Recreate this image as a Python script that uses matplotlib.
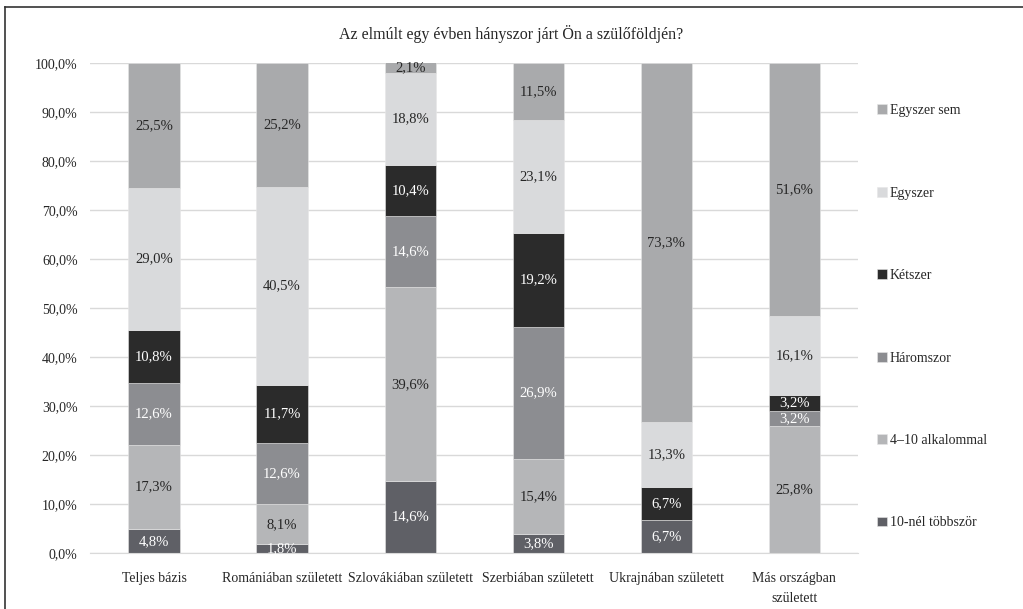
import matplotlib
matplotlib.use("Agg")
import matplotlib.pyplot as plt
import numpy as np

plt.rcParams["font.family"] = ["Liberation Serif", "DejaVu Serif"]

categories = ["Teljes bázis", "Romániában született", "Szlovákiában született",
              "Szerbiában született", "Ukrajnában született", "Más országban\nszületett"]
series = ["10-nél többször", "4–10 alkalommal", "Háromszor", "Kétszer", "Egyszer", "Egyszer sem"]
tobbszor = [4.8, 1.8, 14.6, 3.8, 6.7, 0.0]
alkalom = [17.3, 8.1, 39.6, 15.4, 0.0, 25.8]
haromszor = [12.6, 12.6, 14.6, 26.9, 0.0, 3.2]
ketszer = [10.8, 11.7, 10.4, 19.2, 6.7, 3.2]
egyszer = [29.0, 40.5, 18.8, 23.1, 13.3, 16.1]
egyszer_sem = [25.5, 25.2, 2.1, 11.5, 73.3, 51.6]
values = [tobbszor, alkalom, haromszor, ketszer, egyszer, egyszer_sem]

colors = ["#5f6066", "#b5b6b8", "#8c8d91", "#2b2b2b", "#d9dadc", "#a9aaac"]
text_colors = ["white", "#262626", "white", "white", "#262626", "#262626"]

fig = plt.figure(figsize=(10.23, 6.09), dpi=100)
ax = fig.add_axes([0.088, 0.092, 0.751, 0.805])

x = np.arange(len(categories))
bottom = np.zeros(len(categories))
handles = []
for vals, col, tc, name in zip(values, colors, text_colors, series):
    vals = np.array(vals)
    h = ax.bar(x, vals, 0.4, bottom=bottom, color=col, label=name,
               edgecolor="#e6e6e6", linewidth=0.4, zorder=2)
    handles.append(h)
    for xi, v, b in zip(x, vals, bottom):
        if v > 0:
            ax.text(xi, b + v / 2, f"{v:.1f}%".replace(".", ","), ha="center",
                    va="center", color=tc, fontsize=10.5, zorder=3)
    bottom += vals

ax.set_xlim(-0.5, len(categories) - 0.5)
ax.set_ylim(0, 100)
ax.set_yticks(np.arange(0, 101, 10))
ax.set_yticklabels([f"{t:.1f}%".replace(".", ",") for t in np.arange(0, 101, 10)])
ax.set_xticks(x)
ax.set_xticklabels(categories, linespacing=1.65)
ax.grid(axis="y", color="#d9d9d9", linewidth=1, zorder=0)
for s in ["top", "right", "left"]:
    ax.spines[s].set_visible(False)
ax.spines["bottom"].set_color("#d9d9d9")
ax.tick_params(length=0, labelsize=10, colors="#262626")
ax.tick_params(axis="x", pad=14)
ax.tick_params(axis="y", pad=9)

fig.text(0.5, 0.944, "Az elmúlt egy évben hányszor járt Ön a szülőföldjén?",
         ha="center", va="center", fontsize=11.5, color="#262626")

leg = fig.legend(handles[::-1], series[::-1], loc="upper left",
                 bbox_to_anchor=(0.852, 0.838), frameon=False, fontsize=10,
                 handlelength=0.7, handleheight=0.7, handletextpad=0.2,
                 labelspacing=5.0, borderaxespad=0)
for t in leg.get_texts():
    t.set_color("#262626")

# frame around the chart
fig.add_artist(plt.Line2D([0.005, 0.005], [0.0, 0.988], color="#333333", linewidth=1.2,
                          transform=fig.transFigure))
fig.add_artist(plt.Line2D([0.005, 1.0], [0.988, 0.988], color="#333333", linewidth=1.2,
                          transform=fig.transFigure))

fig.savefig("out.png", dpi=100)
